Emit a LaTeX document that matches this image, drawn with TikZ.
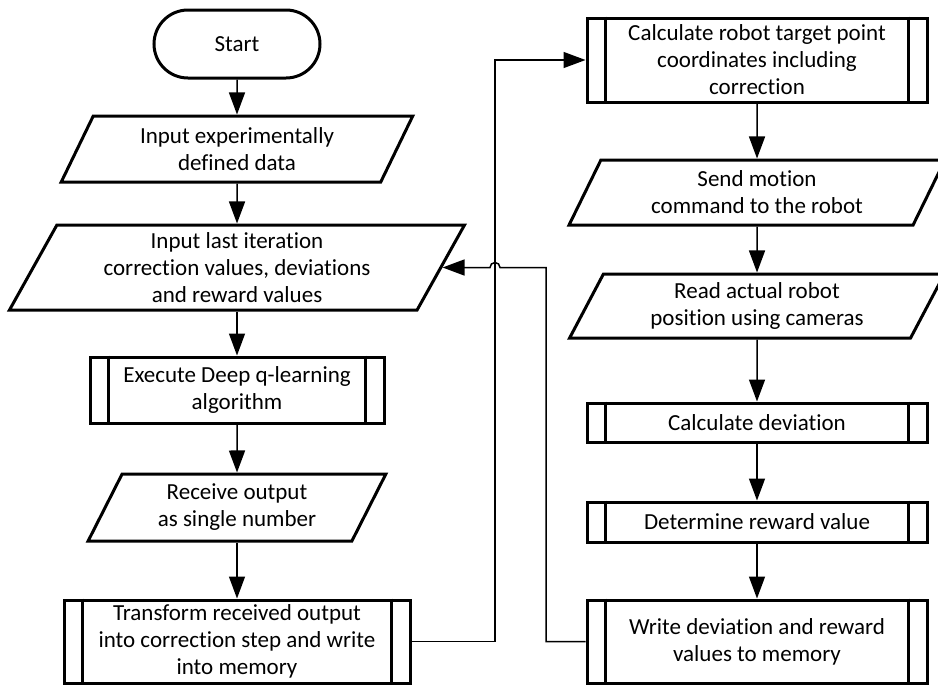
\documentclass[tikz,border=0pt]{standalone}
\usepackage{fontspec}
\setmainfont[Ligatures=NoCommon]{Carlito}
\usetikzlibrary{shapes.geometric,shapes.misc,arrows.meta}
\begin{document}
\begin{tikzpicture}[x=1pt,y=-1pt,
		font=\fontsize{23}{27}\selectfont,
		box/.style={draw,line width=3pt,align=center,inner sep=0pt},
		terminal/.style={box,rounded rectangle,minimum width=166pt,minimum height=68pt},
		io/.style={box,trapezium,trapezium left angle=63.4,trapezium right angle=116.6,
			trapezium stretches=true},
		proc/.style={box,rectangle},
		flow/.style={line width=1.5pt,-{Triangle[length=22pt,width=16pt]}}]
	\path[use as bounding box,fill=white] (0,0) rectangle (938,686);
	
	%%%% left column
	\node[terminal] (start) at (237,44) {Start};
	\node[io,minimum width=352pt,minimum height=66pt] (inexp) at (237,149)
		{Input experimentally\\defined data};
	\node[io,minimum width=456pt,minimum height=85pt] (inlast) at (237,267.5)
		{Input last iteration\\correction values, deviations\\and reward values};
	\node[proc,minimum width=294pt,minimum height=66pt] (exec) at (237,390)
		{Execute Deep q-learning\\algorithm};
	\node[io,minimum width=298pt,minimum height=67pt] (recv) at (237,507.5)
		{Receive output\\as single number};
	\node[proc,minimum width=346pt,minimum height=83pt] (trans) at (237,641.5)
		{Transform received output\\into correction step and write\\into memory};
	
	%%%% right column
	\node[proc,minimum width=340pt,minimum height=84pt] (calc) at (757,60)
		{Calculate robot target point\\coordinates including\\correction};
	\node[io,minimum width=376pt,minimum height=65pt] (send) at (757,192.5)
		{Send motion\\command to the robot};
	\node[io,minimum width=376pt,minimum height=64pt] (read) at (757,306)
		{Read actual robot\\position using cameras};
	\node[proc,minimum width=340pt,minimum height=39pt] (dev) at (757,422.5)
		{Calculate deviation};
	\node[proc,minimum width=340pt,minimum height=40pt] (rew) at (757,522)
		{Determine reward value};
	\node[proc,minimum width=340pt,minimum height=83pt] (write) at (757,641.5)
		{Write deviation and reward\\values to memory};
	
	% side bars of the predefined processes
	\foreach \n in {exec,trans,calc,dev,rew,write}{
		\draw[line width=3pt] ([xshift=20]\n.north west) -- ([xshift=20]\n.south west)
			([xshift=-20]\n.north east) -- ([xshift=-20]\n.south east);
	}
	
	%%%% connectors
	\coordinate (hop) at (495,267.5);
	\coordinate (back) at (546,267.5);
	\draw[flow] (start) -- (inexp);
	\draw[flow] (inexp) -- (inlast);
	\draw[flow] (inlast) -- (exec);
	\draw[flow] (exec) -- (recv);
	\draw[flow] (recv) -- (trans);
	\draw[flow] (trans.east) -- (trans.east -| hop) -- (hop |- calc.west) -- (calc.west);
	\draw[flow] (calc) -- (send);
	\draw[flow] (send) -- (read);
	\draw[flow] (read) -- (dev);
	\draw[flow] (dev) -- (rew);
	\draw[flow] (rew) -- (write);
	\draw[flow] (write.west) -| (back) -- ([xshift=5]hop)
		arc[start angle=0,end angle=-180,radius=5] -- (inlast.east);
\end{tikzpicture}
\end{document}
